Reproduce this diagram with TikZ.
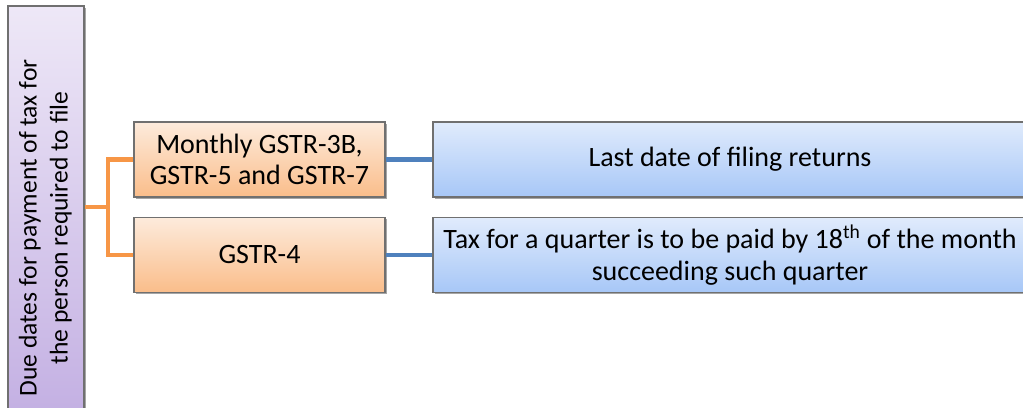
\documentclass[tikz,border=0pt]{standalone}
\usepackage{fontspec}
\setmainfont{Carlito}
\usetikzlibrary{shadows,calc}
\definecolor{lavtop}{HTML}{EEE8F7}
\definecolor{lavbot}{HTML}{C2AEE2}
\definecolor{ortop}{HTML}{FDEBDC}
\definecolor{orbot}{HTML}{FABD8A}
\definecolor{bltop}{HTML}{E0EBFC}
\definecolor{blbot}{HTML}{A7C7F7}
\definecolor{bordc}{HTML}{707070}
\definecolor{orline}{HTML}{F79646}
\definecolor{blline}{HTML}{4F81BD}
\tikzset{
  boxbase/.style={draw=bordc, line width=0.8pt, inner sep=0pt, align=center,
    font=\fontsize{21}{23.5}\selectfont,
    drop shadow={shadow xshift=1.3pt, shadow yshift=-1.3pt, opacity=0.35, fill=black}},
  orbox/.style={boxbase, top color=ortop, bottom color=orbot,
    minimum width=188.25pt, minimum height=56.25pt},
  blbox/.style={boxbase, top color=bltop, bottom color=blbot,
    minimum width=445.5pt, minimum height=56.25pt},
  oconn/.style={draw=orline, line width=3.2pt},
  bconn/.style={draw=blline, line width=3.2pt},
}
\begin{document}
\begin{tikzpicture}[x=0.75pt,y=-0.75pt]
\clip (0,0) rectangle (1023,407);
\useasboundingbox (0,0) rectangle (1023,407);
\fill[white] (0,0) rectangle (1023,407);
\node[boxbase, top color=lavtop, bottom color=lavbot, font=\fontsize{19.2}{23.25}\selectfont,
      rotate=90, minimum width=316.5pt, minimum height=57pt] (L) at (46,217)
  {\begin{tabular}{@{}c@{}}Due dates for payment of tax for\\the person required to file\end{tabular}\hspace{16.5pt}};
\node[orbox] (M1) at (259.5,159.5) {Monthly GSTR-3B,\\GSTR-5 and GSTR-7};
\node[orbox] (M2) at (259.5,255) {GSTR-4};
\node[blbox] (B1) at (730,159.5) {Last date of filing returns};
\node[blbox] (B2) at (730,255) {Tax for a quarter is to be paid by 18\textsuperscript{th} of the month\\succeeding such quarter};
\coordinate (J) at (108,207);
\draw[oconn] (L.south |- J) -- (J);
\draw[oconn] (M1.west) -| (J) |- (M2.west);
\draw[bconn] (M1.east) -- (B1.west);
\draw[bconn] (M2.east) -- (B2.west);
\end{tikzpicture}
\end{document}
